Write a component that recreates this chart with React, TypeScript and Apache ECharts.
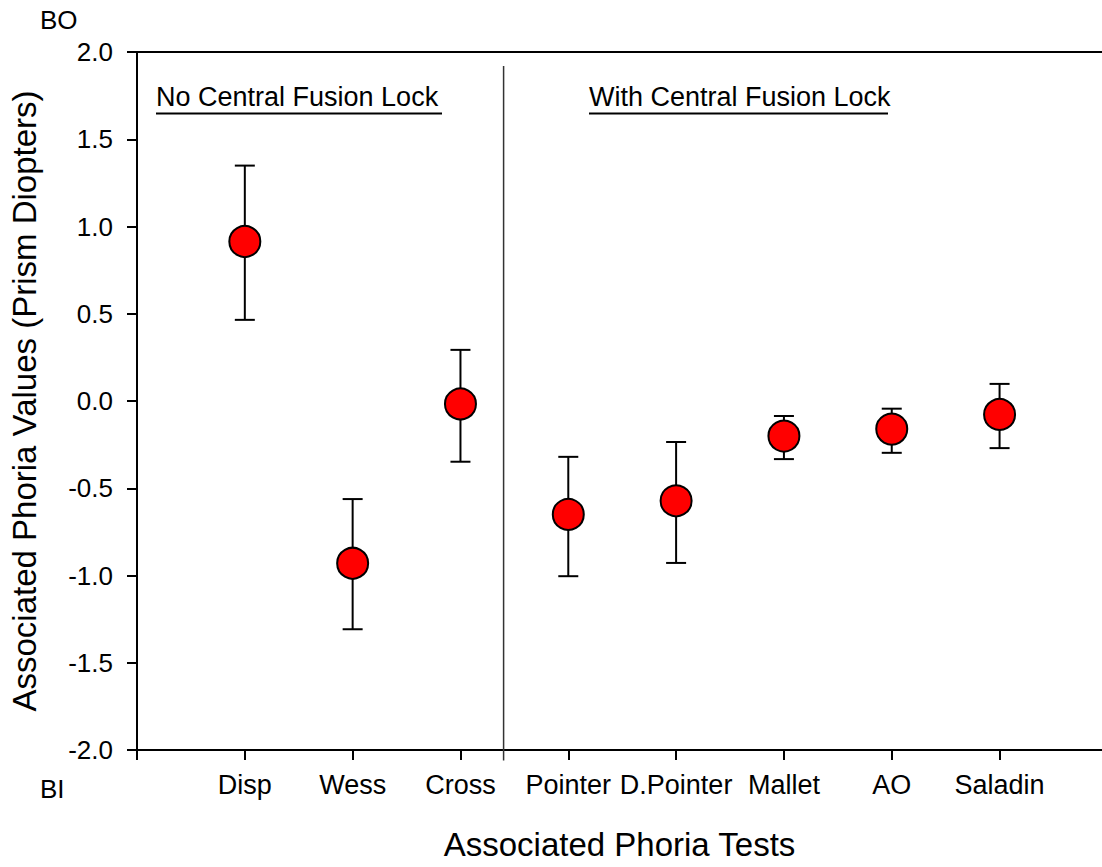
import React, { useEffect, useRef } from "react";
import * as echarts from "echarts";

const tests = ["Disp", "Wess", "Cross", "Pointer", "D.Pointer", "Mallet", "AO", "Saladin"];
const positions = [1, 2, 3, 4, 5, 6, 7, 8];
const means = [0.914, -0.93, -0.017, -0.65, -0.572, -0.201, -0.161, -0.077];
const upper = [1.349, -0.562, 0.293, -0.32, -0.235, -0.086, -0.044, 0.098];
const lower = [0.465, -1.308, -0.348, -1.004, -0.928, -0.333, -0.297, -0.27];
const yTicks = [-2.0, -1.5, -1.0, -0.5, 0.0, 0.5, 1.0, 1.5, 2.0];
const dividerX = 3.4;
const dividerSpan = [1.92, -2.06];

const FONT = 'Arial, "Liberation Sans", Helvetica, sans-serif';

export default function App() {
  const ref = useRef<HTMLDivElement>(null);
  useEffect(() => {
    if (!ref.current) return;
    const chart = echarts.init(ref.current, null, { renderer: "svg" });
    const axisLine = { show: true, onZero: false, lineStyle: { color: "#000", width: 2 } };
    const option: any = {
      animation: false,
      backgroundColor: "#fff",
      textStyle: { fontFamily: FONT },
      grid: { left: 137, right: 0, top: 52, bottom: 117, containLabel: false },
      xAxis: [
        {
          type: "value",
          position: "bottom",
          min: 0,
          max: 8.95,
          interval: 1,
          splitLine: { show: false },
          axisLine,
          axisTick: {
            show: true,
            inside: false,
            length: 10,
            lineStyle: { color: "#000", width: 2 },
            customValues: [0, ...positions],
          },
          axisLabel: {
            show: true,
            margin: 21,
            fontSize: 27,
            color: "#000",
            fontFamily: FONT,
            customValues: positions,
            formatter: (v: number) => {
              const r = Math.round(v);
              const i = positions.indexOf(r);
              return i >= 0 && Math.abs(v - r) < 1e-6 ? tests[i] : "";
            },
          },
          name: "Associated Phoria Tests",
          nameLocation: "middle",
          nameGap: 78,
          nameTextStyle: { fontSize: 33, color: "#000", fontFamily: FONT },
        },
        {
          type: "value",
          position: "top",
          min: 0,
          max: 8.95,
          interval: 1,
          splitLine: { show: false },
          axisLine,
          axisTick: { show: false },
          axisLabel: { show: false },
        },
      ],
      yAxis: {
        type: "value",
        min: -2,
        max: 2,
        interval: 0.5,
        splitLine: { show: false },
        axisLine,
        axisTick: { show: true, inside: false, length: 10, lineStyle: { color: "#000", width: 2 } },
        axisLabel: {
          margin: 24,
          fontSize: 26,
          color: "#000",
          fontFamily: FONT,
          customValues: yTicks,
          formatter: (v: number) => v.toFixed(1),
        },
        name: "Associated Phoria Values (Prism Diopters)",
        nameLocation: "middle",
        nameRotate: 90,
        nameGap: 96,
        nameTextStyle: { fontSize: 33, color: "#000", fontFamily: FONT },
      },
      series: [
        {
          type: "line",
          data: [
            [dividerX, dividerSpan[0]],
            [dividerX, dividerSpan[1]],
          ],
          symbol: "none",
          clip: false,
          silent: true,
          lineStyle: { color: "#333", width: 1.5 },
          z: 1,
        },
        {
          type: "custom",
          data: positions.map((p, i) => [p, lower[i], upper[i]]),
          clip: false,
          z: 2,
          renderItem: (params: any, api: any) => {
            const x = api.value(0);
            const lo = api.coord([x, api.value(1)]);
            const hi = api.coord([x, api.value(2)]);
            const hw = 10;
            const st = { stroke: "#000", lineWidth: 2 };
            return {
              type: "group",
              children: [
                { type: "line", shape: { x1: hi[0], y1: hi[1], x2: lo[0], y2: lo[1] }, style: st },
                { type: "line", shape: { x1: hi[0] - hw, y1: hi[1], x2: hi[0] + hw, y2: hi[1] }, style: st },
                { type: "line", shape: { x1: lo[0] - hw, y1: lo[1], x2: lo[0] + hw, y2: lo[1] }, style: st },
              ],
            };
          },
        },
        {
          type: "scatter",
          data: positions.map((p, i) => [p, means[i]]),
          symbol: "circle",
          symbolSize: 31,
          itemStyle: { color: "#ff0000", borderColor: "#000", borderWidth: 2, opacity: 1 },
          z: 3,
        },
      ],
      graphic: [
        {
          type: "text",
          x: 40,
          y: 19.5,
          style: { text: "BO", fontSize: 26, fontFamily: FONT, fill: "#000", verticalAlign: "middle" },
        },
        {
          type: "text",
          x: 40,
          y: 789,
          style: { text: "BI", fontSize: 26, fontFamily: FONT, fill: "#000", verticalAlign: "middle" },
        },
        {
          type: "text",
          x: 156,
          y: 97,
          style: {
            text: "No Central Fusion Lock",
            fontSize: 27,
            fontFamily: FONT,
            fill: "#000",
            align: "left",
            verticalAlign: "middle",
          },
        },
        { type: "line", shape: { x1: 156, y1: 113.5, x2: 442, y2: 113.5 }, style: { stroke: "#000", lineWidth: 2 } },
        {
          type: "text",
          x: 589,
          y: 97,
          style: {
            text: "With Central Fusion Lock",
            fontSize: 27,
            fontFamily: FONT,
            fill: "#000",
            align: "left",
            verticalAlign: "middle",
          },
        },
        { type: "line", shape: { x1: 589, y1: 113.5, x2: 888, y2: 113.5 }, style: { stroke: "#000", lineWidth: 2 } },
      ],
    };
    chart.setOption(option);
    return () => chart.dispose();
  }, []);
  return (
    <div
      ref={ref}
      style={{ position: "absolute", left: 0, top: 0, width: 1102, height: 867, background: "#fff" }}
    />
  );
}
